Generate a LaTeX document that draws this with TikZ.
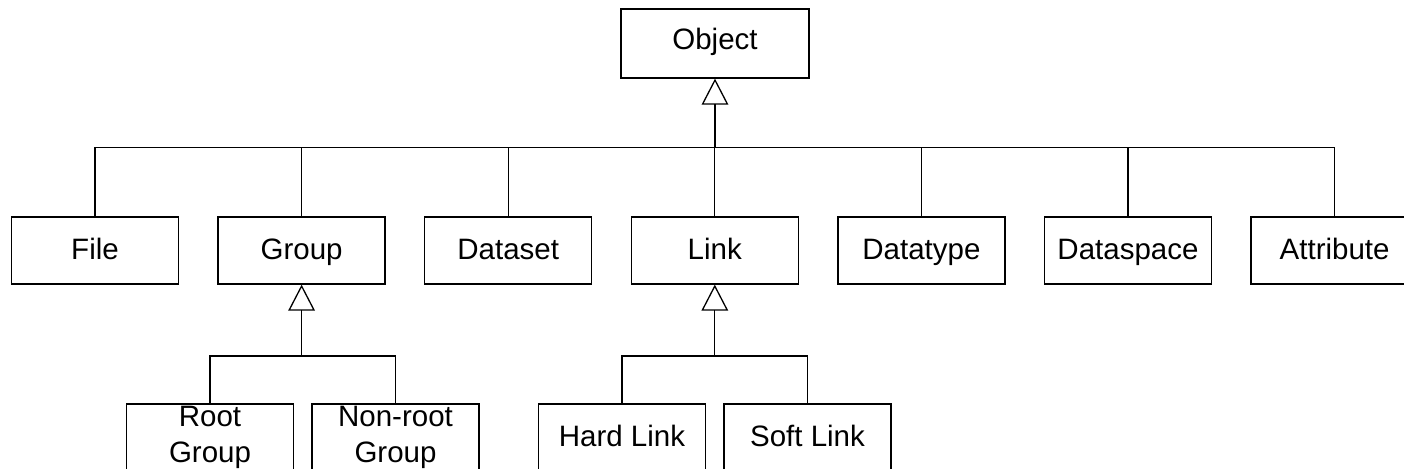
\documentclass[tikz,border=0pt]{standalone}
\usepackage{fontspec}
\setmainfont{Liberation Sans}
\usepackage{tikz}
\usetikzlibrary{arrows.meta}

\tikzset{
    cls/.style={draw, line width=0.65pt, minimum width=83.5pt, minimum height=33.5pt,
        inner sep=0pt, align=center, font=\fontsize{14.75}{18}\selectfont},
    oneline/.style={cls, text height=12.5pt, text depth=3pt},
    wire/.style={line width=0.65pt},
    isa/.style={wire, -{Triangle[open, length=13pt, width=13.3pt, line width=0.65pt]}}
}

\begin{document}
\begin{tikzpicture}[x=0.5pt, y=-0.5pt]
    \useasboundingbox (0,0) rectangle (1404,469);

    % Root class
    \node[cls, minimum width=94pt, minimum height=34.5pt, text height=10pt, text depth=3.5pt]
        (obj) at (715, 43.5) {Object};

    % First level
    \node[oneline] (file)      at (95, 250.5)     {File};
    \node[oneline] (group)     at (301.6, 250.5)  {Group};
    \node[oneline] (dataset)   at (508.2, 250.5)  {Dataset};
    \node[oneline] (link)      at (714.8, 250.5)  {Link};
    \node[oneline] (datatype)  at (921.4, 250.5)  {Datatype};
    \node[oneline] (dataspace) at (1128, 250.5)   {Dataspace};
    \node[oneline] (attr)      at (1334.6, 250.5) {Attribute};

    % Second level
    \node[cls]     (rootgrp)  at (210, 437.5)   {Root\\Group};
    \node[cls]     (nonroot)  at (395.5, 437.5) {Non-root\\Group};
    \node[oneline] (hardlink) at (622, 437.5)   {Hard Link};
    \node[oneline] (softlink) at (807.5, 437.5) {Soft Link};

    % Bus lines
    \coordinate (objbus) at (715, 147.5);
    \coordinate (grpbus) at (301.6, 356);
    \coordinate (lnkbus) at (714.8, 356);

    % Generalisation to Object
    \draw[isa] (objbus) -- (obj.south);
    \draw[wire] (file.north) |- (objbus) -| (attr.north);
    \foreach \n in {group, dataset, link, datatype, dataspace}
        \draw[wire] (\n.north) -- (\n.north |- objbus);

    % Generalisation to Group
    \draw[isa] (grpbus) -- (group.south);
    \draw[wire] (rootgrp.north) |- (grpbus) -| (nonroot.north);

    % Generalisation to Link
    \draw[isa] (lnkbus) -- (link.south);
    \draw[wire] (hardlink.north) |- (lnkbus) -| (softlink.north);
\end{tikzpicture}
\end{document}
